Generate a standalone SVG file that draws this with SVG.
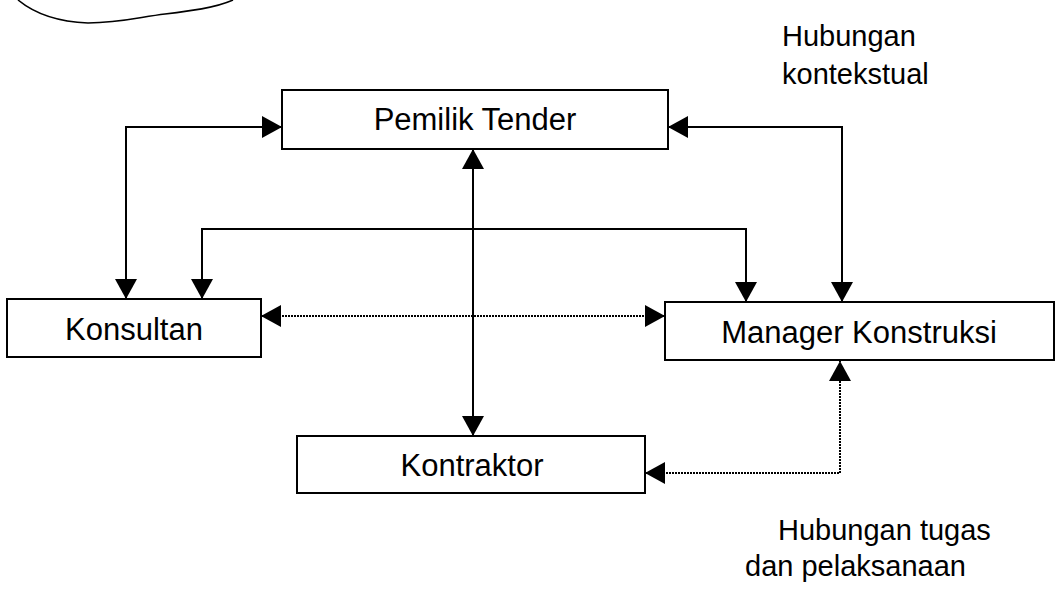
<svg xmlns="http://www.w3.org/2000/svg" width="1062" height="593" viewBox="0 0 1062 593">
<style>
.box{fill:#fff;stroke:#000;stroke-width:2}
.t{font-family:"Liberation Sans",Arial,sans-serif;font-size:31px;fill:#000;text-anchor:middle}
.lbl{font-family:"Liberation Sans",Arial,sans-serif;font-size:29px;fill:#000}
.solid{fill:none;stroke:#000;stroke-width:2}
.dot{fill:none;stroke:#000;stroke-width:2;stroke-dasharray:2 1}
</style>
<defs>
<marker id="ah" viewBox="0 0 20 22" refX="20" refY="11" markerWidth="20" markerHeight="22" markerUnits="userSpaceOnUse" orient="auto-start-reverse">
<path d="M0,0 L20,11 L0,22 z" fill="#000"/>
</marker>
</defs>
<path d="M18,0 C35,14 60,22 88,23 C120,23 140,17 165,14 C190,11 215,8 233,0" fill="none" stroke="#000" stroke-width="1.6"/>
<g id="connectors">
<path class="solid" d="M282,127 H126 V299" marker-start="url(#ah)" marker-end="url(#ah)"/>
<path class="solid" d="M668,127 H842 V302" marker-start="url(#ah)" marker-end="url(#ah)"/>
<path class="solid" d="M202,299 V229 H746 V302" marker-start="url(#ah)" marker-end="url(#ah)"/>
<path class="solid" d="M473,149 V436" marker-start="url(#ah)" marker-end="url(#ah)"/>
<path class="dot" d="M261,316 H665" marker-start="url(#ah)" marker-end="url(#ah)"/>
<path class="dot" d="M645,473 H840 V361" marker-start="url(#ah)" marker-end="url(#ah)"/>
</g>
<g id="pemilik">
<rect class="box" x="282" y="90" width="386" height="59"/>
<text class="t" x="475" y="130">Pemilik Tender</text>
</g>
<g id="konsultan">
<rect class="box" x="7" y="299" width="254" height="58"/>
<text class="t" x="134" y="340">Konsultan</text>
</g>
<g id="manager">
<rect class="box" x="665" y="302" width="389" height="58"/>
<text class="t" x="859" y="343">Manager Konstruksi</text>
</g>
<g id="kontraktor">
<rect class="box" x="297" y="436" width="348" height="57"/>
<text class="t" x="472" y="476">Kontraktor</text>
</g>
<g id="labels">
<text class="lbl" x="782" y="46">Hubungan</text>
<text class="lbl" x="782" y="84">kontekstual</text>
<text class="lbl" x="778" y="540">Hubungan tugas</text>
<text class="lbl" x="745" y="576">dan pelaksanaan</text>
</g>
</svg>
